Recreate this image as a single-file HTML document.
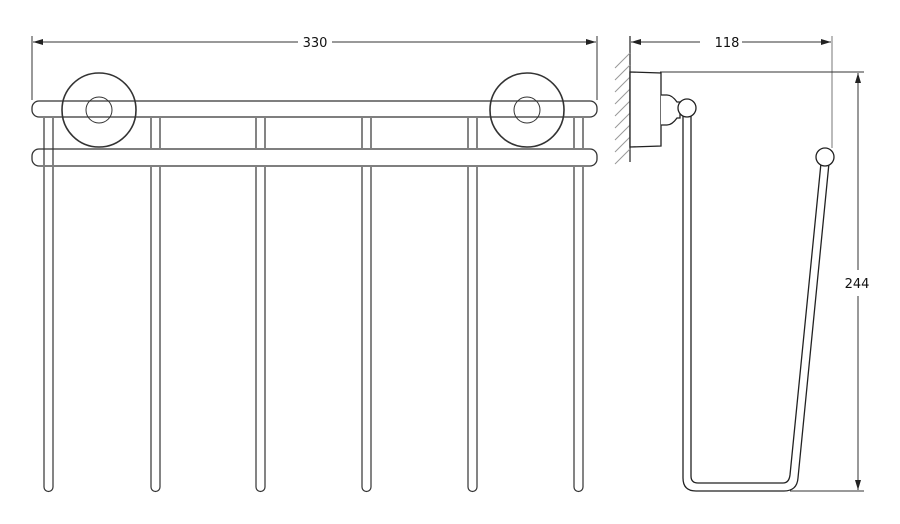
<!DOCTYPE html>
<html><head><style>html,body{margin:0;padding:0;background:#fff;}svg{display:block}</style></head><body>
<svg width="900" height="524" viewBox="0 0 900 524" xmlns="http://www.w3.org/2000/svg" font-family="'DejaVu Sans','Liberation Sans',sans-serif">
<defs>
<marker id="ar" markerWidth="10" markerHeight="6" refX="10" refY="3" orient="auto" markerUnits="userSpaceOnUse"><path d="M0,0 L10,3 L0,6z" fill="#222"/></marker>
</defs>
<g stroke="#333" stroke-width="1" fill="none">
<line x1="32" y1="36" x2="32" y2="100"/>
<line x1="597" y1="36" x2="597" y2="100"/>
<line x1="300" y1="42" x2="33" y2="42" marker-end="url(#ar)"/>
<line x1="330" y1="42" x2="596" y2="42" marker-end="url(#ar)"/>
</g>
<g stroke="#333" stroke-width="1.3" fill="#fff">
<rect x="32" y="101" width="565" height="16" rx="7"/>
<rect x="32" y="149" width="565" height="17" rx="7"/>
</g>
<g stroke="#333" stroke-width="1.2" fill="#fff">
<path d="M44,118 V165 M53,118 V165"/>
<path d="M151,118 V148 M160,118 V148"/>
<path d="M256,118 V148 M265,118 V148"/>
<path d="M362,118 V148 M371,118 V148"/>
<path d="M468,118 V148 M477,118 V148"/>
<path d="M574,118 V148 M583,118 V148"/>
<path d="M44,167 V487 a4.5,4.5 0 0 0 9,0 V167"/>
<path d="M151,167 V487 a4.5,4.5 0 0 0 9,0 V167"/>
<path d="M256,167 V487 a4.5,4.5 0 0 0 9,0 V167"/>
<path d="M362,167 V487 a4.5,4.5 0 0 0 9,0 V167"/>
<path d="M468,167 V487 a4.5,4.5 0 0 0 9,0 V167"/>
<path d="M574,167 V487 a4.5,4.5 0 0 0 9,0 V167"/>
</g>
<g stroke="#333" stroke-width="1" fill="none">
<circle cx="99" cy="110" r="37" stroke-width="1.6"/>
<circle cx="99" cy="110" r="13"/>
<circle cx="527" cy="110" r="37" stroke-width="1.6"/>
<circle cx="527" cy="110" r="13"/>
</g>
<rect x="298" y="34" width="34" height="16" fill="#fff"/>
<text x="315" y="47" font-size="13" text-anchor="middle" fill="#111">330</text>
<g stroke="#333" stroke-width="1" fill="none">
<line x1="630" y1="36" x2="630" y2="162" stroke-width="1.3"/>
<g stroke="#999">
<path d="M615,68 l15,-15 M615,80 l15,-15 M615,92 l15,-15 M615,104 l15,-15 M615,116 l15,-15 M615,128 l15,-15 M615,140 l15,-15 M615,152 l15,-15 M615,164 l15,-15"/>
</g>
<line x1="832" y1="36" x2="832" y2="148" stroke="#777"/>
<line x1="700" y1="42" x2="631" y2="42" marker-end="url(#ar)"/>
<line x1="742" y1="42" x2="831" y2="42" marker-end="url(#ar)"/>
<line x1="660" y1="72" x2="864" y2="72"/>
<line x1="790" y1="491" x2="864" y2="491"/>
<line x1="858" y1="270" x2="858" y2="73" marker-end="url(#ar)"/>
<line x1="858" y1="296" x2="858" y2="490" marker-end="url(#ar)"/>
</g>
<g stroke="#222" stroke-width="1.3" fill="#fff">
<path d="M630,72 L661,73 V146 L630,147z"/>
<path d="M661,95 H667 Q672,95 677,102 L680,102 V118 L677,118 Q672,125 667,125 H661"/>
</g>
<g stroke="#222" stroke-width="1.3" fill="none">
<path d="M683,115 V478 Q683,491 696,491 H784 Q797,491 798,478 L829,163"/>
<path d="M691,115 V476 Q691,483 698,483 H783 Q789,483 790,475 L821,163"/>
</g>
<g stroke="#222" stroke-width="1.3" fill="#fff">
<circle cx="687" cy="108" r="9"/>
<circle cx="825" cy="157" r="9"/>
</g>
<rect x="712" y="34" width="30" height="16" fill="#fff"/>
<text x="727" y="47" font-size="13" text-anchor="middle" fill="#111">118</text>
<rect x="846" y="274" width="26" height="18" fill="#fff"/>
<text x="857" y="288" font-size="13" text-anchor="middle" fill="#111">244</text>
</svg>
</body></html>
